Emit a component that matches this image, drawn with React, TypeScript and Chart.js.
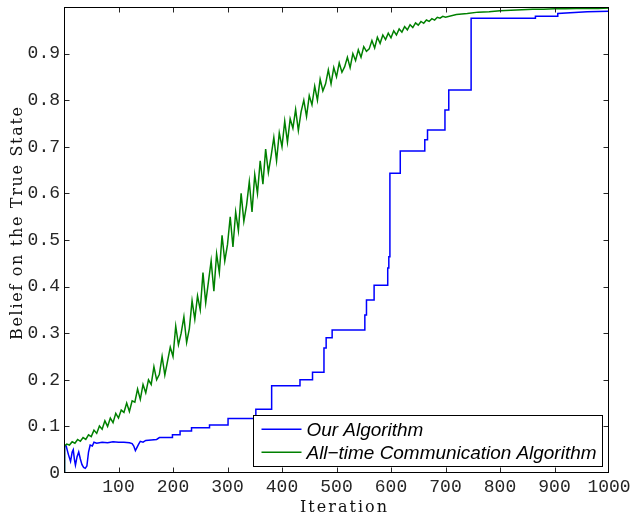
import React, { useEffect, useRef } from 'react';
import { Chart, registerables } from 'chart.js';

Chart.register(...registerables);

const X_MIN = 0;
const X_MAX = 1000;
const X_STEP = 100;
const Y_MIN = 0;
const Y_MAX = 1;
const Y_STEP = 0.1;

const X_TITLE = 'Iteration';
const Y_TITLE = 'Belief on the True State';
const SERIES_NAMES = ['Our Algorithm', 'All\u2212time Communication Algorithm'];

const BLUE_ITER = [
  0, 1, 4, 8, 12, 15, 17, 19, 21, 24,
  27, 30, 33, 36, 39, 42, 45, 48, 52, 55,
  60, 70, 80, 90, 100, 110, 120, 125, 128, 131,
  134, 137, 140, 145, 150, 160, 170, 175, 199, 199,
  213, 213, 234, 234, 267, 267, 301, 301, 352, 352,
  381, 381, 433, 433, 456, 456, 477, 477, 481, 481,
  492, 492, 552, 552, 555, 555, 569, 569, 594, 594,
  596, 596, 598, 598, 617, 617, 662, 662, 667, 667,
  699, 699, 706, 706, 747, 747, 865, 865, 906, 906,
  960, 1000,
];
const BLUE_BELIEF = [
  0, 0.06, 0.058, 0.04, 0.025, 0.045, 0.05, 0.03, 0.017, 0.035,
  0.045, 0.03, 0.018, 0.012, 0.01, 0.015, 0.045, 0.06, 0.058, 0.066,
  0.064, 0.066, 0.065, 0.067, 0.066, 0.066, 0.065, 0.063, 0.058, 0.048,
  0.055, 0.062, 0.068, 0.066, 0.07, 0.071, 0.072, 0.076, 0.076, 0.082,
  0.082, 0.09, 0.09, 0.097, 0.097, 0.103, 0.103, 0.117, 0.117, 0.137,
  0.137, 0.187, 0.187, 0.2, 0.2, 0.216, 0.216, 0.268, 0.268, 0.29,
  0.29, 0.307, 0.307, 0.339, 0.339, 0.371, 0.371, 0.403, 0.403, 0.44,
  0.44, 0.464, 0.464, 0.643, 0.643, 0.691, 0.691, 0.715, 0.715, 0.736,
  0.736, 0.779, 0.779, 0.822, 0.822, 0.976, 0.976, 0.98, 0.98, 0.986,
  0.99, 0.991,
];

const GREEN_ITER = [
  0, 1, 5, 10, 15, 20, 25, 30, 35, 40,
  45, 50, 55, 60, 65, 70, 75, 80, 85, 90,
  95, 100, 105, 110, 115, 120, 125, 130, 135, 140,
  145, 150, 155, 160, 165, 170, 175, 180, 185, 190,
  195, 200, 205, 210, 215, 220, 225, 230, 235, 240,
  245, 250, 255, 260, 265, 270, 275, 280, 285, 290,
  295, 300, 305, 310, 315, 320, 325, 330, 335, 340,
  345, 350, 355, 360, 365, 370, 375, 380, 385, 390,
  395, 400, 405, 410, 415, 420, 425, 430, 435, 440,
  445, 450, 455, 460, 465, 470, 475, 480, 485, 490,
  495, 500, 505, 510, 515, 520, 525, 530, 535, 540,
  545, 550, 555, 560, 565, 570, 575, 580, 585, 590,
  595, 600, 605, 610, 615, 620, 625, 630, 635, 640,
  645, 650, 655, 660, 665, 670, 675, 680, 685, 690,
  695, 700, 720, 740, 760, 780, 800, 820, 840, 860,
  880, 900, 920, 940, 960, 980, 1000,
];
const GREEN_BELIEF = [
  0, 0.058, 0.062, 0.06, 0.067, 0.064, 0.072, 0.068, 0.076, 0.072,
  0.082, 0.078, 0.092, 0.085, 0.101, 0.094, 0.112, 0.1, 0.118, 0.108,
  0.128, 0.118, 0.135, 0.13, 0.15, 0.132, 0.155, 0.152, 0.18, 0.158,
  0.19, 0.172, 0.2, 0.19, 0.228, 0.2, 0.212, 0.25, 0.21, 0.24,
  0.27, 0.25, 0.315, 0.275, 0.3, 0.335, 0.28, 0.31, 0.37, 0.33,
  0.38, 0.35, 0.43, 0.365, 0.41, 0.455, 0.39, 0.47, 0.43, 0.51,
  0.455, 0.49, 0.55, 0.485, 0.56, 0.52, 0.6, 0.54, 0.575, 0.625,
  0.56, 0.64, 0.6, 0.67, 0.62, 0.695, 0.645, 0.68, 0.72, 0.67,
  0.73, 0.7, 0.755, 0.71, 0.76, 0.74, 0.78, 0.735, 0.775, 0.8,
  0.765, 0.81, 0.79, 0.83, 0.8, 0.845, 0.82, 0.835, 0.865, 0.835,
  0.87, 0.85, 0.88, 0.86, 0.872, 0.892, 0.87, 0.9, 0.885, 0.908,
  0.892, 0.915, 0.905, 0.91, 0.928, 0.912, 0.935, 0.922, 0.94, 0.93,
  0.944, 0.934, 0.949, 0.94, 0.953, 0.946, 0.958, 0.951, 0.962, 0.956,
  0.966, 0.961, 0.969, 0.965, 0.972, 0.969, 0.975, 0.972, 0.978, 0.976,
  0.98, 0.978, 0.984, 0.986, 0.989, 0.99, 0.992, 0.993, 0.994, 0.995,
  0.995, 0.996, 0.996, 0.997, 0.997, 0.997, 0.998,
];

const BLUE = '#0000ff';
const GREEN = '#008000';
const TICK_FONT = "'Liberation Mono', 'Courier New', monospace";
const TICK_COLOR = '#262626';
const TITLE_FONT = "'DejaVu Serif', serif";
const LEGEND_FONT = "'Liberation Sans', Arial, sans-serif";

function drawSpaced(ctx: CanvasRenderingContext2D, text: string, cx: number, y: number, font: string, targetWidth: number) {
  ctx.font = font;
  (ctx as any).letterSpacing = '0px';
  const w = ctx.measureText(text).width;
  const n = text.length;
  const ls = Math.max(0, (targetWidth - w) / (n - 1));
  (ctx as any).letterSpacing = ls + 'px';
  ctx.textAlign = 'left';
  ctx.textBaseline = 'alphabetic';
  ctx.fillText(text, cx - (w + (n - 1) * ls) / 2, y);
  (ctx as any).letterSpacing = '0px';
}

const decorPlugin = {
  id: 'decor',
  afterDatasetsDraw(chart: any) {
    const { ctx, chartArea: a } = chart;
    const xs = chart.scales.x;
    const ys = chart.scales.y;
    const L = Math.round(a.left) + 0.5;
    const R = Math.round(a.right) - 0.5;
    const T = Math.round(a.top) + 0.5;
    const B = Math.round(a.bottom) - 0.5;
    const TL = 5;
    ctx.save();
    ctx.lineWidth = 1;
    ctx.strokeStyle = '#262626';
    ctx.beginPath();
    xs.ticks.forEach((t: any) => {
      if (t.value <= xs.min || t.value >= xs.max) return;
      const px = Math.round(xs.getPixelForValue(t.value)) + 0.5;
      ctx.moveTo(px, B); ctx.lineTo(px, B - TL);
      ctx.moveTo(px, T); ctx.lineTo(px, T + TL);
    });
    ys.ticks.forEach((t: any) => {
      if (t.value <= ys.min + 1e-9 || t.value >= ys.max - 1e-9) return;
      const py = Math.round(ys.getPixelForValue(t.value)) + 0.5;
      ctx.moveTo(L, py); ctx.lineTo(L + TL, py);
      ctx.moveTo(R, py); ctx.lineTo(R - TL, py);
    });
    ctx.stroke();
    ctx.strokeStyle = '#000';
    ctx.strokeRect(L, T, R - L, B - T);

    // legend box
    const lw = 349;
    const lh = 51;
    const lx = Math.floor(a.right - 6.5 - lw) + 0.5;
    const ly = Math.floor(a.bottom - 6.3 - lh) + 0.5;
    ctx.fillStyle = '#fff';
    ctx.fillRect(lx, ly, lw, lh);
    ctx.strokeStyle = '#000';
    ctx.strokeRect(lx, ly, lw, lh);
    ctx.font = `italic 16px ${LEGEND_FONT}`;
    const mw = ctx.measureText(SERIES_NAMES[1]).width;
    const fs = 16 * 290 / mw;
    ctx.font = `italic ${fs}px ${LEGEND_FONT}`;
    ctx.textAlign = 'left';
    ctx.textBaseline = 'middle';
    const rows = [
      { y: ly + 13.8, color: BLUE, name: SERIES_NAMES[0] },
      { y: ly + 36.8, color: GREEN, name: SERIES_NAMES[1] },
    ];
    rows.forEach((r) => {
      ctx.strokeStyle = r.color;
      ctx.lineWidth = 1.5;
      ctx.beginPath();
      ctx.moveTo(lx + 8, r.y);
      ctx.lineTo(lx + 48, r.y);
      ctx.stroke();
      ctx.fillStyle = '#000';
      ctx.fillText(r.name, lx + 53, r.y + 1);
    });
    ctx.restore();
  },
  afterDraw(chart: any) {
    const { ctx, chartArea: a } = chart;
    ctx.save();
    ctx.fillStyle = '#111';
    drawSpaced(ctx, X_TITLE, (a.left + a.right) / 2 + 7, 512, `16px ${TITLE_FONT}`, 87);
    ctx.translate(22, (a.top + a.bottom) / 2 - 16.5);
    ctx.rotate(-Math.PI / 2);
    drawSpaced(ctx, Y_TITLE, 0, 0, `16px ${TITLE_FONT}`, 233);
    ctx.restore();
  },
};

export default function App() {
  const ref = useRef<HTMLCanvasElement>(null);
  useEffect(() => {
    if (!ref.current) return;
    const chart = new Chart(ref.current, {
      type: 'line',
      data: {
        datasets: [
          {
            label: SERIES_NAMES[1],
            data: GREEN_ITER.map((x, i) => ({ x, y: GREEN_BELIEF[i] })),
            borderColor: GREEN,
            borderWidth: 1.5,
            pointRadius: 0,
            tension: 0,
            order: 0,
          },
          {
            label: SERIES_NAMES[0],
            data: BLUE_ITER.map((x, i) => ({ x, y: BLUE_BELIEF[i] })),
            borderColor: BLUE,
            borderWidth: 1.5,
            pointRadius: 0,
            tension: 0,
            order: 1,
          },
        ],
      },
      options: {
        responsive: false,
        animation: false,
        devicePixelRatio: 1,
        layout: { padding: { top: 7, right: 21, left: 0, bottom: 0 } },
        plugins: { legend: { display: false }, tooltip: { enabled: false } },
        scales: {
          x: {
            type: 'linear',
            min: X_MIN,
            max: X_MAX,
            grid: { display: false, drawTicks: false },
            border: { display: false },
            ticks: {
              stepSize: X_STEP,
              autoSkip: false,
              maxRotation: 0,
              padding: 3,
              color: TICK_COLOR,
              font: { family: TICK_FONT, size: 18 },
              callback: (v: any) => (Number(v) === 0 ? '' : String(v)),
            },
            afterFit: (s: any) => {
              s.height = 43;
              s.paddingLeft = 0;
              s.paddingRight = 0;
            },
          },
          y: {
            type: 'linear',
            min: Y_MIN,
            max: Y_MAX,
            grid: { display: false, drawTicks: false },
            border: { display: false },
            ticks: {
              stepSize: Y_STEP,
              autoSkip: false,
              padding: 4,
              color: TICK_COLOR,
              font: { family: TICK_FONT, size: 18 },
              callback: (v: any) => {
                const n = Number(v);
                if (n === 0) return '0';
                if (n >= 1 - 1e-9) return '';
                return n.toFixed(1);
              },
            },
            afterFit: (s: any) => {
              s.width = 64;
              s.paddingTop = 0;
              s.paddingBottom = 0;
            },
          },
        },
      },
      plugins: [decorPlugin],
    } as any);
    return () => chart.destroy();
  }, []);
  return (
    <div style={{ position: 'absolute', left: 0, top: 0, width: 630, height: 516, background: '#fff' }}>
      <canvas ref={ref} width={630} height={516} style={{ display: 'block', width: 630, height: 516 }} />
    </div>
  );
}
